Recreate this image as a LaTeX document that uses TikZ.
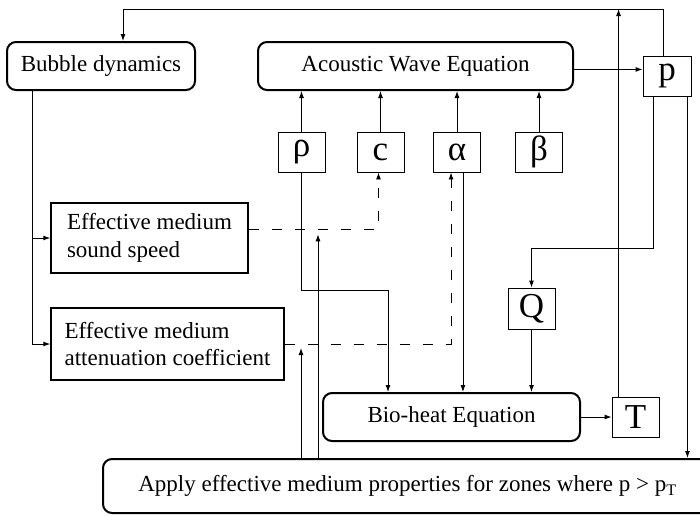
\documentclass[tikz,border=0pt]{standalone}
\usepackage{fontspec}
\setmainfont{Liberation Serif}
\usetikzlibrary{arrows.meta,calc}
\begin{document}
\begin{tikzpicture}[x=1pt,y=-1pt,
  every node/.style={font=\fontsize{23}{27.6}\selectfont, inner sep=0pt},
  eqbox/.style={draw, line width=2pt, rounded corners=9pt, minimum height=48pt},
  varbox/.style={draw, line width=0.9pt, minimum width=47pt, minimum height=40pt,
                 font=\fontsize{35}{38}\selectfont},
  medbox/.style={draw, line width=1.4pt, align=left},
  link/.style={line width=0.9pt},
  arr/.style={link, -{Latex[length=7pt,width=5pt]}},
  dashlink/.style={arr, dash pattern=on 10pt off 13pt}]

\useasboundingbox (0,0) rectangle (700,515);

% solver blocks
\node[eqbox, minimum width=188pt] (bub) at (101,66) {Bubble dynamics};
\node[eqbox, minimum width=315pt] (awe) at (415.5,66) {Acoustic Wave Equation};
\node[eqbox, minimum width=257pt] (bio) at (451.5,417) {Bio-heat Equation};
\node[eqbox, minimum width=609pt, minimum height=54pt] (apply) at (407.5,486)
  {Apply effective medium properties for zones where p > p\textsubscript{T}};

% field variables
\node[varbox, minimum width=48pt] (p) at (667,76) {p};
\node[varbox] (rho) at (301.5,152) {ρ};
\node[varbox] (c) at (380.5,152) {c};
\node[varbox] (alpha) at (457,152) {α};
\node[varbox] (beta) at (539,152) {β};
\node[varbox, minimum height=41pt] (Q) at (531.5,308.5) {Q};
\node[varbox] (T) at (635.5,417) {T};

% effective medium models
\node[medbox, minimum width=197pt, minimum height=70pt] (ss) at (149.5,238)
  {Effective medium\\sound speed};
\node[medbox, minimum width=233pt, minimum height=72pt] (att) at (167.5,344)
  {Effective medium\\attenuation coefficient};

% routing points
\coordinate (topL) at (123,9);
\coordinate (bubOut) at ($(bub.south west)+(26,0)$);
\coordinate (pBack) at ($(p.north)+(-4,0)$);
\coordinate (pToQ) at ($(p.south west)+(11,0)$);
\coordinate (pToApply) at ($(p.south east)+(-4,0)$);
\coordinate (tUp) at ($(T.north west)+(7,0)$);
\coordinate (cIn) at ($(c.south)+(-2,0)$);
\coordinate (aIn) at ($(alpha.south west)+(18,0)$);
\coordinate (aOut) at ($(alpha.south east)+(-18,0)$);
\coordinate (rhoIn) at ($(bio.north west)+(66,0)$);
\coordinate (upAtt) at ($(apply.north west)+(199,0)$);
\coordinate (upSs) at ($(apply.north west)+(216,0)$);

% acoustic loop
\draw[arr] (rho.north) -- (rho.north |- awe.south);
\draw[arr] (c.north) -- (c.north |- awe.south);
\draw[arr] (alpha.north) -- (alpha.north |- awe.south);
\draw[arr] (beta.north) -- (beta.north |- awe.south);
\draw[arr] (awe.east |- p.165) -- (p.165);
\draw[arr] (pBack) -- (pBack |- topL) -- (topL) -- (topL |- bub.north);
\draw[arr] (tUp) -- (tUp |- topL);

% bubble dynamics to effective medium models
\draw[arr] (bubOut) |- (att.west);
\draw[arr] (bubOut |- ss.west) -- (ss.west);
\draw[dashlink] (ss.5) -| (cIn);
\draw[dashlink] (att.east) -| (aIn);

% thermal path
\draw[arr] (pToQ) -- ++(0,152) -| (Q.north);
\draw[arr] (Q.south) -- (Q.south |- bio.north);
\draw[arr] (rho.south) -- ++(0,118) -| (rhoIn);
\draw[arr] (aOut) -- (aOut |- bio.north);
\draw[arr] (bio.east) -- (bio.east -| T.west);

% threshold zones
\draw[arr] (pToApply) -- (pToApply |- apply.north);
\draw[arr] (upAtt) -- ($(upAtt |- att.east)+(0,4)$);
\draw[arr] (upSs) -- ($(upSs |- ss.5)+(0,5)$);
\end{tikzpicture}
\end{document}
